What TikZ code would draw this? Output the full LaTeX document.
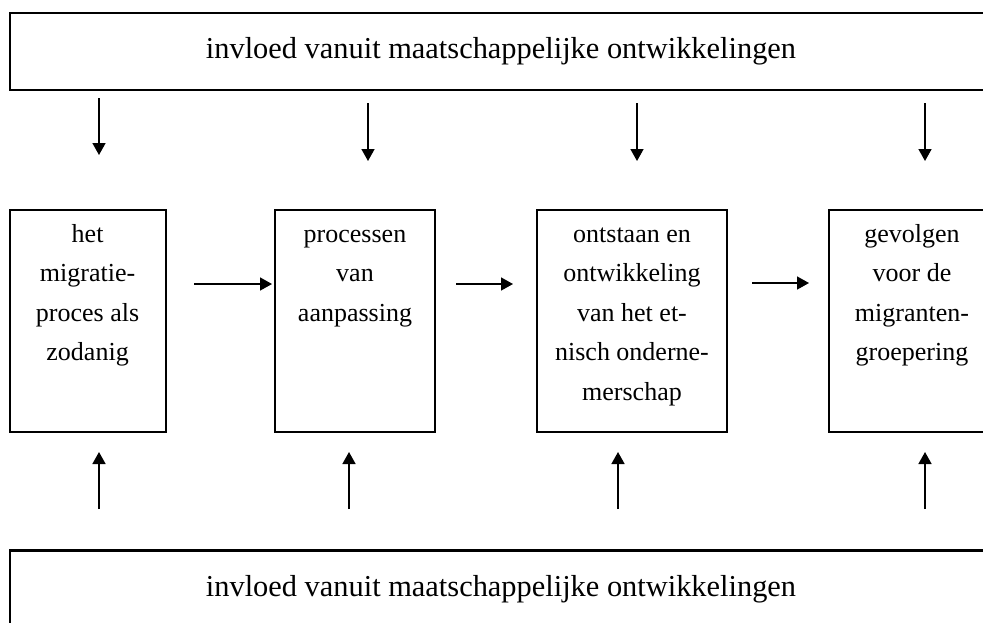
\documentclass[tikz,border=0pt]{standalone}
\usepackage{fontspec}
\setmainfont{Liberation Serif}
\usepackage{tikz}
\usetikzlibrary{positioning, arrows.meta}

\begin{document}
\begin{tikzpicture}[
    x=0.5pt, y=-0.5pt,
    band/.style={
        draw=black, line width=1.1pt, inner sep=0pt,
        minimum width=491pt, minimum height=38.5pt,
        font=\fontsize{15.2}{18}\selectfont,
    },
    stage/.style={
        draw=black, line width=1.1pt, inner sep=0pt, minimum height=111pt,
    },
    stagetext/.style={
        anchor=north, inner sep=0pt, align=center,
        font=\fontsize{13}{19.75}\selectfont,
    },
    arrow/.style={-{Triangle[length=6pt,width=6.5pt]}, draw=black, line width=0.8pt},
]
\useasboundingbox (0,0) rectangle (983,622);
\clip (0,0) rectangle (983,622);

% --- outer influence bands ---
\node[band] (top) at (501,51.5) {invloed vanuit maatschappelijke ontwikkelingen};
\node[band] (bottom) at (501,589) {invloed vanuit maatschappelijke ontwikkelingen};

% --- the four stages ---
\node[stage, minimum width=78pt] (s1) at (87.6,321) {};
\node[stagetext] at (s1.north) [yshift=-2.7pt]
    {\strut het\\migratie-\\proces als\\zodanig};
\node[stage, minimum width=80pt] (s2) at (355,321) {};
\node[stagetext] at (s2.north) [yshift=-2.7pt]
    {\strut processen\\van\\aanpassing};
\node[stage, minimum width=95pt] (s3) at (632,321) {};
\node[stagetext] at (s3.north) [yshift=-2.7pt]
    {\strut ontstaan en\\ontwikkeling\\van het et-\\nisch onderne-\\merschap};
\node[stage, minimum width=83pt] (s4) at (912,321) {};
\node[stagetext] at (s4.north) [yshift=-2.7pt]
    {\strut gevolgen\\voor de\\migranten-\\groepering};

% --- arrow ends ---
\coordinate (d1a) at (99,98);   \coordinate (d1b) at (99,155);
\coordinate (d2a) at (368,103); \coordinate (d2b) at (368,161);
\coordinate (d3a) at (637,103); \coordinate (d3b) at (637,161);
\coordinate (d4a) at (925,103); \coordinate (d4b) at (925,161);
\coordinate (u1a) at (99,509);  \coordinate (u1b) at (99,452);
\coordinate (u2a) at (349,509); \coordinate (u2b) at (349,452);
\coordinate (u3a) at (618,509); \coordinate (u3b) at (618,452);
\coordinate (u4a) at (925,509); \coordinate (u4b) at (925,452);
\coordinate (h1a) at (194,284); \coordinate (h1b) at (272,284);
\coordinate (h2a) at (456,284); \coordinate (h2b) at (513,284);
\coordinate (h3a) at (752,283); \coordinate (h3b) at (809,283);

% --- arrows ---
\draw[arrow] (d1a) -- (d1b);
\draw[arrow] (d2a) -- (d2b);
\draw[arrow] (d3a) -- (d3b);
\draw[arrow] (d4a) -- (d4b);
\draw[arrow] (u1a) -- (u1b);
\draw[arrow] (u2a) -- (u2b);
\draw[arrow] (u3a) -- (u3b);
\draw[arrow] (u4a) -- (u4b);
\draw[arrow] (h1a) -- (h1b);
\draw[arrow] (h2a) -- (h2b);
\draw[arrow] (h3a) -- (h3b);

\end{tikzpicture}
\end{document}
